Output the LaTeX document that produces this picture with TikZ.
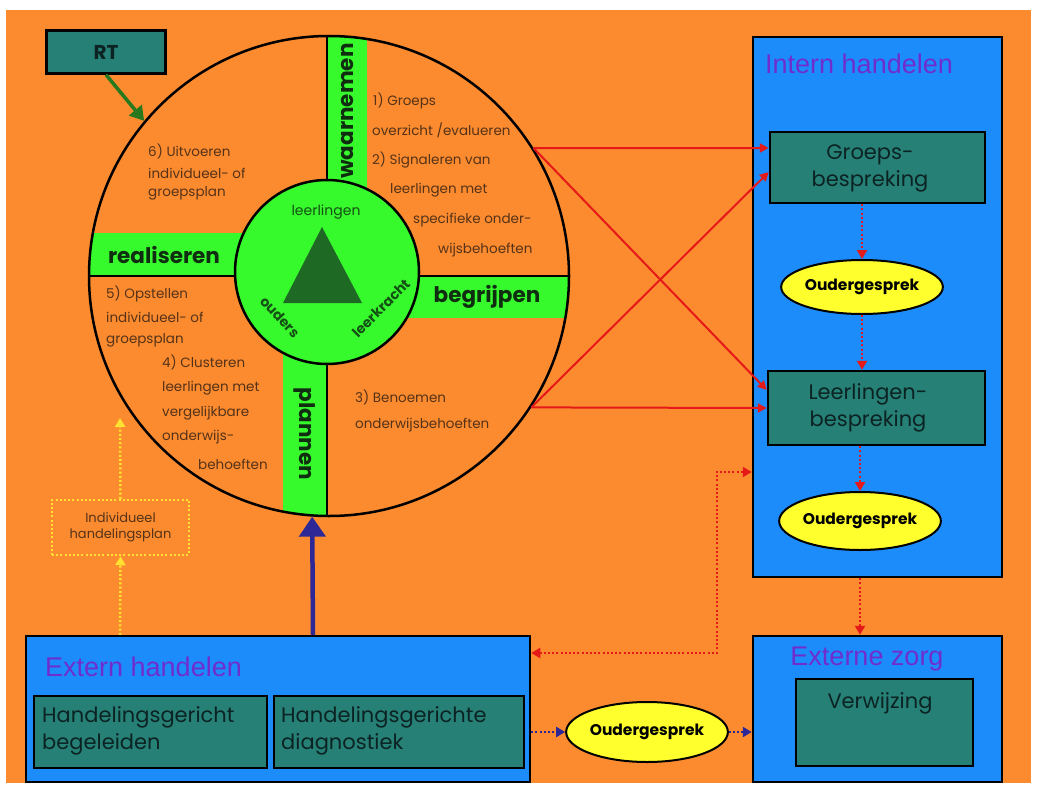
\documentclass[tikz,border=0pt]{standalone}
\usepackage{fontspec}
\setmainfont{Poppins}
\newfontfamily\arialf{Liberation Sans}
\usetikzlibrary{shapes.geometric,arrows.meta,calc}
\definecolor{bgorange}{RGB}{251,139,46}
\definecolor{bandgreen}{RGB}{55,250,45}
\definecolor{boxblue}{RGB}{28,140,250}
\definecolor{boxteal}{RGB}{38,128,118}
\definecolor{trigreen}{RGB}{30,105,35}
\definecolor{titlepurple}{RGB}{112,45,205}
\definecolor{ovalyellow}{RGB}{255,255,45}
\definecolor{qtextc}{RGB}{85,50,25}
\definecolor{hubtextc}{RGB}{20,80,20}
\definecolor{bandtextc}{RGB}{15,45,15}
\definecolor{boxtextc}{RGB}{12,35,35}
\definecolor{navyc}{RGB}{45,40,150}
\definecolor{arrowgreen}{RGB}{40,120,30}
\definecolor{redc}{RGB}{230,25,25}
\definecolor{yellowdot}{RGB}{255,225,50}
\tikzset{
 tealbox/.style={draw=black, line width=2.5pt, fill=boxteal, inner sep=0},
 bluebox/.style={draw=black, line width=2.5pt, fill=boxblue, inner sep=0},
 oval/.style={ellipse, draw=black, line width=2pt, fill=ovalyellow, inner sep=0, text=black, font=\bfseries\fontsize{15.5}{18}\selectfont},
 boxtext/.style={text=boxtextc, font=\fontsize{21}{27}\selectfont, align=center, inner sep=0},
 boxtitle/.style={text=titlepurple, font=\arialf\fontsize{27}{30}\selectfont, inner sep=0},
 bandtext/.style={text=bandtextc, font=\bfseries\fontsize{21.5}{24}\selectfont, inner sep=0},
 qtext/.style={text=qtextc, font=\fontsize{13.5}{16}\selectfont, inner sep=0, anchor=west},
 hubtext/.style={text=hubtextc, font=\fontsize{14}{16}\selectfont, inner sep=0},
 redline/.style={draw=redc, line width=2pt, -{Triangle[length=9pt,width=9pt]}},
 reddot/.style={draw=redc, line width=2.5pt, dash pattern=on 2pt off 2.2pt, -{Triangle[length=9pt,width=10pt]}},
 navydot/.style={draw=navyc, line width=2.5pt, dash pattern=on 2pt off 2.2pt, -{Triangle[length=9pt,width=10pt]}},
 yellowdot/.style={draw=yellowdot, line width=2.5pt, dash pattern=on 2pt off 2.2pt},
}
\begin{document}
\begin{tikzpicture}[x=1pt,y=-1pt]
\useasboundingbox (0,0) rectangle (1038,789);
\fill[white] (0,0) rectangle (1038,789);
\fill[bgorange] (6,10) rectangle (1031,783);

% wheel bands
\begin{scope}
 \clip (329,276) circle [radius=240pt];
 \fill[bandgreen] (327,20) rectangle (367,200);
 \fill[bandgreen] (70,233) rectangle (250,277);
 \fill[bandgreen] (400,276) rectangle (600,318);
 \fill[bandgreen] (283,330) rectangle (327,530);
 \draw[line width=1.8pt] (60,276) -- (600,276);
 \draw[line width=1.8pt] (327,20) -- (327,530);
\end{scope}
\node[circle, draw=black, line width=2.5pt, minimum size=480pt, inner sep=0] (wheel) at (329,276) {};
\node[circle, draw=black, line width=2.5pt, fill=bandgreen, minimum size=184pt, inner sep=0] (hub) at (327,272) {};
\fill[trigreen] (322,227) -- (362,303) -- (283,303) -- cycle;
\node[hubtext] (hubl) at (326,212) {leerlingen};
\node[hubtext, font=\bfseries\fontsize{14}{16}\selectfont, rotate=-47] (hubo) at (280,317) {ouders};
\node[hubtext, font=\bfseries\fontsize{14}{16}\selectfont, rotate=45] (hubk) at (381,308) {leerkracht};

\node[bandtext, rotate=90] (waar) at (347,111) {waarnemen};
\node[bandtext] (real) at (164,255) {realiseren};
\node[bandtext] (begr) at (487,297) {begrijpen};
\node[bandtext, rotate=-90] (plan) at (305,434) {plannen};

% quadrant texts
\node[qtext] (q6a) at (148,151) {6) Uitvoeren};
\node[qtext] (q6b) at (148,173) {individueel- of};
\node[qtext] (q6c) at (148,193) {groepsplan};
\node[qtext] (q1a) at (373,101) {1) Groeps};
\node[qtext] (q1b) at (372,130) {overzicht /evalueren};
\node[qtext] (q2a) at (372,160) {2) Signaleren van};
\node[qtext] (q2b) at (390,190) {leerlingen met};
\node[qtext] (q2c) at (413,220) {specifieke onder-};
\node[qtext] (q2d) at (438,250) {wijsbehoeften};
\node[qtext] (q5a) at (106,294) {5) Opstellen};
\node[qtext] (q5b) at (106,317) {individueel- of};
\node[qtext] (q5c) at (106,340) {groepsplan};
\node[qtext] (q4a) at (162,362) {4) Clusteren};
\node[qtext] (q4b) at (162,388) {leerlingen met};
\node[qtext] (q4c) at (162,413) {vergelijkbare};
\node[qtext] (q4d) at (162,437) {onderwijs-};
\node[qtext] (q4e) at (198,464) {behoeften};
\node[qtext] (q3a) at (355,397) {3) Benoemen};
\node[qtext] (q3b) at (355,425) {onderwijsbehoeften};

% RT
\node[tealbox, minimum width=119pt, minimum height=43pt, text=boxtextc, font=\bfseries\fontsize{20}{22}\selectfont] (rt) at (106,52) {RT};
\draw[arrowgreen, line width=3.5pt, -{Triangle[length=14pt,width=16pt]}] (rt.south) -- (wheel.140);

% Intern handelen
\node[bluebox, minimum width=249pt, minimum height=540pt] (intern) at (877.5,307) {};
\node[boxtitle, anchor=west] (interntitle) at (765,64) {Intern handelen};
\node[tealbox, minimum width=215pt, minimum height=71pt] (groeps) at (877.5,167.5) {};
\node[boxtext] (groepst) at (870,168) {Groeps-\\bespreking};
\node[oval, minimum width=146pt, minimum height=54pt] (oval1) at (862,287) {Oudergesprek};
\node[tealbox, minimum width=217pt, minimum height=74pt] (leer) at (876.5,408) {};
\node[boxtext] (leert) at (868,408) {Leerlingen-\\bespreking};
\node[oval, minimum width=146pt, minimum height=58pt] (oval2) at (860,521) {Oudergesprek};

% Externe zorg
\node[bluebox, minimum width=249pt, minimum height=146pt] (extzorg) at (877.5,709) {};
\node[boxtitle] (extzorgtitle) at (867,659) {Externe zorg};
\node[tealbox, minimum width=177pt, minimum height=87pt] (verw) at (884.5,722.5) {};
\node[boxtext] (verwt) at (880,703) {Verwijzing};

% Extern handelen
\node[bluebox, minimum width=504pt, minimum height=146pt] (extern) at (278,709) {};
\node[boxtitle, anchor=west] (externtitle) at (45,667) {Extern handelen};
\node[tealbox, minimum width=233pt, minimum height=72pt] (hgb) at (150.5,732) {};
\node[boxtext, align=left, anchor=west] (hgbt) at (42,731) {Handelingsgericht\\begeleiden};
\node[tealbox, minimum width=250pt, minimum height=72pt] (hgd) at (399,732) {};
\node[boxtext, align=left, anchor=west] (hgdt) at (281,731) {Handelingsgerichte\\diagnostiek};
\node[oval, minimum width=147pt, minimum height=60pt] (oval3) at (647,732) {Oudergesprek};

% Individueel handelingsplan
\node[yellowdot, minimum width=137pt, minimum height=55pt, inner sep=0, align=center, text=qtextc, font=\fontsize{13}{16}\selectfont] (ihp) at (120.5,527.5) {Individueel\\handelingsplan};
\coordinate (ihptip) at (120,418);

% connectors
\draw[navyc, line width=4.5pt, -{Triangle[length=20pt,width=26pt]}] ($(extern.north)+(35,0)$) -- (wheel.-94);
\draw[yellowdot, -{Triangle[length=9pt,width=10pt]}] ($(extern.north)+(-158,0)$) -- (ihp.south);
\draw[yellowdot, -{Triangle[length=9pt,width=10pt]}] (ihp.north) -- (ihptip);

\draw[redline] (wheel.32) -- ($(groeps.west)+(0,-19.5)$);
\draw[redline] (wheel.32) -- ($(leer.west)+(0,-18)$);
\draw[redline] (wheel.-33) -- (leer.west);
\draw[redline] (wheel.-33) -- ($(groeps.west)+(0,4.5)$);

\draw[reddot] (groeps.south -| oval1.north) -- (oval1.north);
\draw[reddot] (oval1.south) -- (leer.north -| oval1.south);
\draw[reddot] (leer.south -| oval2.north) -- (oval2.north);
\draw[reddot] (intern.south -| oval2.south) -- (extzorg.north -| oval2.south);
\draw[reddot, {Triangle[length=9pt,width=10pt]}-{Triangle[length=9pt,width=10pt]}] ($(extern.east)+(0,-56)$) -| ($(intern.west)+(-35,165)$) -- ($(intern.west)+(0,165)$);

\draw[navydot] (extern.east |- oval3.west) -- (oval3.west);
\draw[navydot] (oval3.east) -- (extzorg.west |- oval3.east);
\end{tikzpicture}
\end{document}
